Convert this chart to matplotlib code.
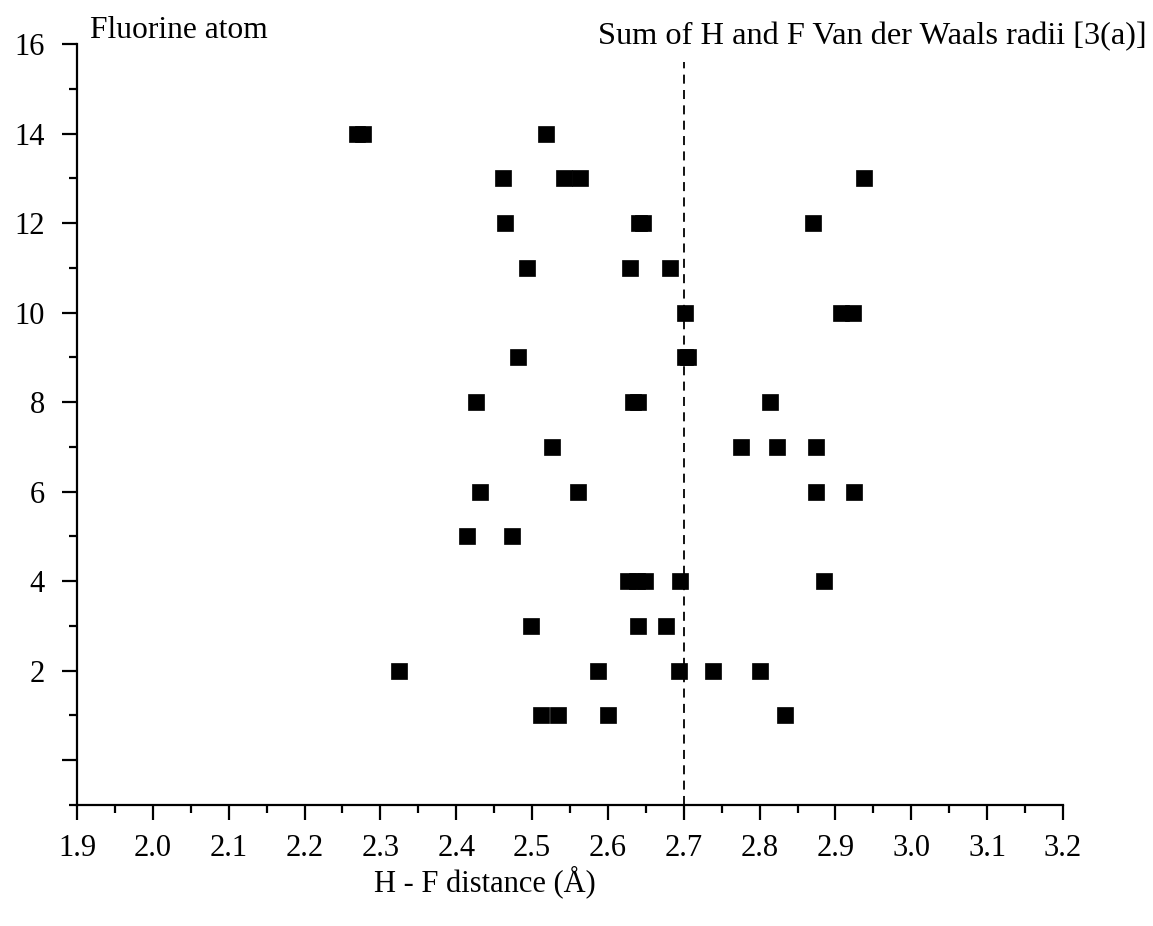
import numpy as np
import matplotlib
matplotlib.use("Agg")
import matplotlib.pyplot as plt
from matplotlib.ticker import MultipleLocator, FuncFormatter

plt.rcParams['font.family'] = ['Liberation Serif', 'DejaVu Serif']

# H...F distances (Å) per fluorine atom
atom = [14, 14, 14,
        13, 13, 13, 13,
        12, 12, 12, 12,
        11, 11, 11,
        10, 10, 10,
        9, 9, 9,
        8, 8, 8, 8,
        7, 7, 7, 7,
        6, 6, 6, 6,
        5, 5,
        4, 4, 4, 4, 4,
        3, 3, 3,
        2, 2, 2, 2, 2,
        1, 1, 1, 1]
distance = [2.269, 2.277, 2.518,
            2.462, 2.542, 2.563, 2.938,
            2.464, 2.641, 2.646, 2.870,
            2.493, 2.629, 2.682,
            2.702, 2.907, 2.923,
            2.482, 2.701, 2.705,
            2.426, 2.633, 2.640, 2.814,
            2.526, 2.776, 2.823, 2.874,
            2.432, 2.561, 2.874, 2.924,
            2.414, 2.473,
            2.627, 2.638, 2.649, 2.695, 2.885,
            2.498, 2.640, 2.676,
            2.325, 2.587, 2.694, 2.738, 2.800,
            2.512, 2.534, 2.600, 2.834]

vdw_sum = 2.70  # sum of H and F van der Waals radii

fig = plt.figure(figsize=(11.53, 9.26), dpi=100)
ax = fig.add_axes([0.0668, 0.1307, 0.9219 - 0.0668, 0.9525 - 0.1307])

ax.plot(distance, atom, 's', color='black', ms=11.5, ls='none', mec='black', mew=0.5)
ax.plot([vdw_sum, vdw_sum], [-1, 15.6], color='black', lw=1.3, ls=(0, (5, 3.5)))

ax.set_xlim(1.9, 3.2)
ax.set_ylim(-1, 16)
ax.xaxis.set_major_locator(MultipleLocator(0.1))
ax.xaxis.set_minor_locator(MultipleLocator(0.05))
ax.yaxis.set_major_locator(MultipleLocator(2))
ax.yaxis.set_minor_locator(MultipleLocator(1))
ax.xaxis.set_major_formatter(FuncFormatter(lambda v, p: f"{v:.1f}"))
ax.yaxis.set_major_formatter(FuncFormatter(lambda v, p: "" if v <= 0 else f"{v:.0f}"))

for s in ['top', 'right']:
    ax.spines[s].set_visible(False)
for s in ['left', 'bottom']:
    ax.spines[s].set_linewidth(1.6)

ax.tick_params(which='major', direction='out', length=11, width=1.6, labelsize=22)
ax.tick_params(which='minor', direction='out', length=6, width=1.6)
ax.tick_params(axis='x', which='major', pad=10)
ax.tick_params(axis='y', which='major', pad=12)

fig.text(90 / 1153, 1 - 38 / 926, "Fluorine atom", fontsize=22.7, ha='left', va='baseline')
fig.text(1147 / 1153, 1 - 44 / 926, "Sum of H and F Van der Waals radii [3(a)]",
         fontsize=23.3, ha='right', va='baseline')
fig.text(485 / 1153, 1 - 882 / 926, "H - F distance (Å)", fontsize=22, ha='center', va='center')

fig.savefig("out.png", dpi=100)
